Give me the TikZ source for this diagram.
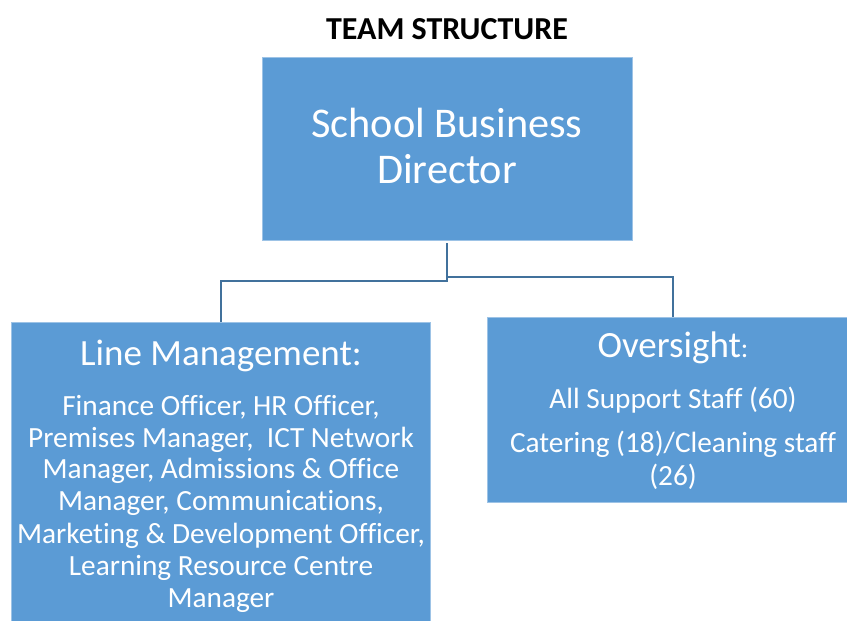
\documentclass[tikz,border=0pt]{standalone}
\usepackage{fontspec}
\setmainfont[Ligatures={NoCommon}]{Carlito}
\definecolor{boxblue}{HTML}{5B9BD5}
\definecolor{boxedge}{HTML}{9DC3E6}
\definecolor{linkblue}{HTML}{41719C}
\tikzset{
  orgbox/.style={rectangle, fill=boxblue, draw=boxedge, line width=0.8pt, inner sep=0pt},
  link/.style={draw=linkblue, line width=2pt},
  wtxt/.style={text=white, anchor=base, inner sep=0pt},
  body/.style={wtxt, font=\fontsize{29.3}{32}\selectfont},
  headA/.style={wtxt, font=\fontsize{37}{40}\selectfont},
}
\begin{document}
\begin{tikzpicture}[x=1pt,y=-1pt]
\useasboundingbox (0,0) rectangle (847,621);
\clip (0,0) rectangle (847,621);
\node[anchor=base, inner sep=0pt, font=\bfseries\fontsize{32}{34}\selectfont] (title) at (447,39) {TEAM STRUCTURE};
% boxes
\node[orgbox, minimum width=370pt, minimum height=183pt] (top) at (447,148.5) {};
\node[orgbox, minimum width=419pt, minimum height=320pt] (lm) at (220.5,482) {};
\node[orgbox, minimum width=372pt, minimum height=185pt] (ov) at (673,409.5) {};
% connectors
\coordinate (jl) at (447,281);
\coordinate (jr) at (447,277);
\draw[link] ([yshift=-3pt]top.south) -- (jl) -| (lm.north);
\draw[link] (jr) -| (ov.north);
% top text
\node[wtxt, font=\fontsize{42.3}{46}\selectfont] (t1) at (447,137) {School Business};
\node[wtxt, font=\fontsize{42.3}{46}\selectfont] (t2) at (447,183) {Director};
% left text
\node[headA] (l0) at (221,365) {Line Management:};
\node[body] (l1) at (221,415) {Finance Officer, HR Officer,};
\node[body] (l2) at (221,447) {Premises Manager,\ \ ICT Network};
\node[body] (l3) at (221,478) {Manager, Admissions \& Office};
\node[body] (l4) at (221,510) {Manager, Communications,};
\node[body] (l5) at (221,543) {Marketing \& Development Officer,};
\node[body] (l6) at (221,575) {Learning Resource Centre};
\node[body] (l7) at (221,607) {Manager};
% right text
\node[headA] (r0) at (673,357) {Oversight{\fontsize{28}{30}\selectfont:}};
\node[body] (r1) at (673,408) {All Support Staff (60)};
\node[body] (r2) at (673,452) {Catering (18)/Cleaning staff};
\node[body] (r3) at (673,485) {(26)};
\end{tikzpicture}
\end{document}
